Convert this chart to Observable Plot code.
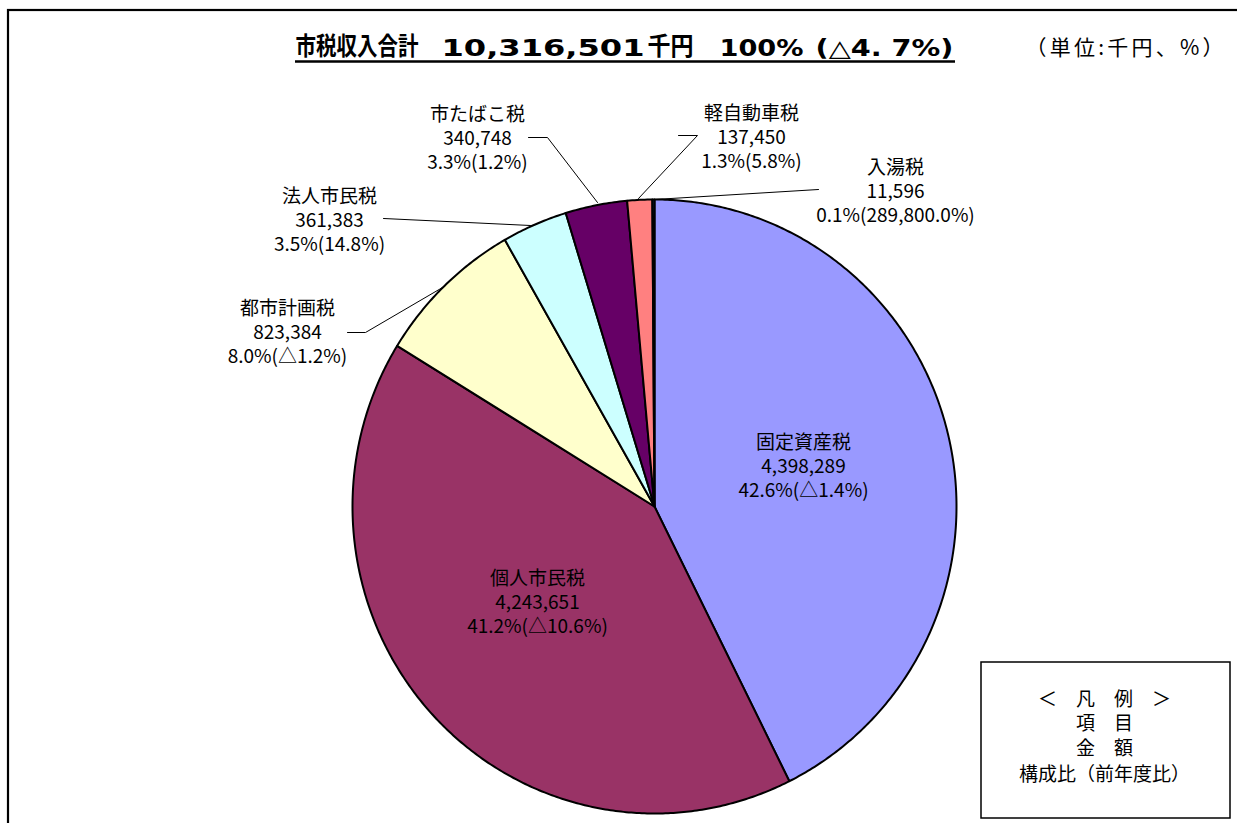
<!DOCTYPE html>
<html>
<head>
<meta charset="utf-8">
<script src="https://cdn.jsdelivr.net/npm/d3@7"></script>
<script src="https://cdn.jsdelivr.net/npm/@observablehq/plot@0.6"></script>
<style>
  html, body { margin: 0; padding: 0; background: #fff; }
</style>
</head>
<body>
<div id="chart"></div>
<script>
// ---- data ----
const names   = ["固定資産税", "個人市民税", "都市計画税", "法人市民税", "市たばこ税", "軽自動車税", "入湯税"];
const amounts = [4398289, 4243651, 823384, 361383, 340748, 137450, 11596];
const shares  = ["42.6", "41.2", "8.0", "3.5", "3.3", "1.3", "0.1"];
const changes = ["△1.4", "△10.6", "△1.2", "14.8", "1.2", "5.8", "289,800.0"];
const titleParts = ["市税収入合計", "10,316,501", "千円", "100%", "(△4. 7%)"];
const unitText = "（単位:千円、%）";
const legendLines = ["＜　凡　例　＞", "項　目", "金　額", "構成比（前年度比）"];

// ---- styles / layout ----
const colors = ["#9999FF", "#993366", "#FFFFCC", "#CCFFFF", "#660066", "#FF8080", "#0066CC"];
const W = 1237, H = 823;
const pie = {cx: 654, cy: 506, rx: 302, ry: 307};
const font = "'Noto Sans CJK JP', 'Noto Sans', sans-serif";
const titleFont = "'DejaVu Sans', 'Noto Sans CJK JP', sans-serif";
// title segments: start x, width, font size, centre y
const titleLayout = [
  {x: 295, w: 123, size: 25, y: 46},
  {x: 441, w: 203, size: 23, y: 48},
  {x: 647, w: 46, size: 25, y: 46},
  {x: 719, w: 84, size: 23, y: 48},
  {x: 815, w: 138, size: 23, y: 48}
];
const underline = {x1: 295, x2: 955, y: 61};
// label block centres (middle line) and leader polylines, in page pixels
const labelPos = [
  [803, 465], [537, 601], [287, 331], [329, 219], [477, 137], [751, 136], [895, 190]
];
const leaders = [
  null, null,
  [[347, 332], [365, 332], [442, 287]],
  [[383, 218], [530, 225]],
  [[528, 137], [547, 137], [597, 202]],
  [[678, 135], [697, 135], [638, 198]],
  [[818, 189], [654, 199]]
];
const legendBox = {x1: 981, x2: 1230, y1: 662, y2: 818, cx: 1104, rows: [699, 723, 748, 774]};

// ---- slice geometry from the values ----
const arcs = d3.pie().sort(null).startAngle(0).endAngle(2 * Math.PI)(amounts);
const slicePts = [];
arcs.forEach((a, i) => {
  slicePts.push({name: names[i], x: pie.cx, y: pie.cy});
  const n = Math.max(2, Math.ceil((a.endAngle - a.startAngle) / (Math.PI / 360)));
  for (let k = 0; k <= n; k++) {
    const t = a.startAngle + (a.endAngle - a.startAngle) * k / n;
    slicePts.push({name: names[i], x: pie.cx + pie.rx * Math.sin(t), y: pie.cy - pie.ry * Math.cos(t)});
  }
});

const labels = names.map((nm, i) => ({
  name: nm,
  x: labelPos[i][0],
  y: labelPos[i][1],
  text: `${nm}\n${d3.format(",")(amounts[i])}\n${shares[i]}%(${changes[i]}%)`
}));

const leaderPts = [];
leaders.forEach((l, i) => { if (l) l.forEach(([x, y]) => leaderPts.push({name: names[i], x, y})); });

const legendData = legendLines.map((t, i) => ({t, x: legendBox.cx, y: legendBox.rows[i]}));

const titleMarks = titleParts.map((t, i) => Plot.text([t], {
  x: () => titleLayout[i].x, y: () => titleLayout[i].y, text: d => d,
  textAnchor: "start", fontSize: titleLayout[i].size, fontWeight: "bold",
  fill: "black", fontFamily: titleFont, className: `tpart${i}`
}));

const chart = Plot.plot({
  width: W, height: H,
  marginTop: 0, marginRight: 0, marginBottom: 0, marginLeft: 0,
  x: {domain: [0, W], axis: null},
  y: {domain: [0, H], range: [0, H], axis: null},
  color: {domain: names, range: colors},
  style: {background: "#fff", fontFamily: font, overflow: "visible"},
  marks: [
    // outer frame
    Plot.rect([{}], {x1: () => 8, x2: () => 1260, y1: () => 10, y2: () => 850, fill: "none", stroke: "black", strokeWidth: 2.2}),
    // pie slices
    Plot.line(slicePts, {x: "x", y: "y", z: "name", fill: "name", stroke: "black", strokeWidth: 2, curve: "linear-closed", strokeLinejoin: "round"}),
    // leader lines
    Plot.line(leaderPts, {x: "x", y: "y", z: "name", stroke: "black", strokeWidth: 1}),
    // slice labels
    Plot.text(labels, {x: "x", y: "y", text: "text", fontSize: 19, lineHeight: 1.24, lineAnchor: "middle", textAnchor: "middle", fill: "black", fontFamily: font}),
    // title
    ...titleMarks,
    Plot.ruleY([underline.y], {x1: underline.x1, x2: underline.x2, stroke: "black", strokeWidth: 2.5}),
    Plot.text([unitText], {x: () => 1025, y: () => 48, text: d => d, textAnchor: "start", fontSize: 21, fill: "black", fontFamily: font, className: "unitt"}),
    // legend box
    Plot.rect([{}], {x1: () => legendBox.x1, x2: () => legendBox.x2, y1: () => legendBox.y1, y2: () => legendBox.y2, fill: "white", stroke: "black", strokeWidth: 1.5}),
    Plot.text(legendData, {x: "x", y: "y", text: "t", fontSize: 19, fill: "black", fontFamily: font})
  ]
});

// fit title pieces and unit text to the widths they take in the reference
titleLayout.forEach((l, i) => {
  chart.querySelectorAll(`.tpart${i} text`).forEach(el => {
    el.setAttribute("textLength", l.w);
    el.setAttribute("lengthAdjust", "spacingAndGlyphs");
  });
});
chart.querySelectorAll(".unitt text").forEach(el => {
  el.setAttribute("textLength", 198);
  el.setAttribute("lengthAdjust", "spacing");
});
document.getElementById("chart").appendChild(chart);
</script>
</body>
</html>
